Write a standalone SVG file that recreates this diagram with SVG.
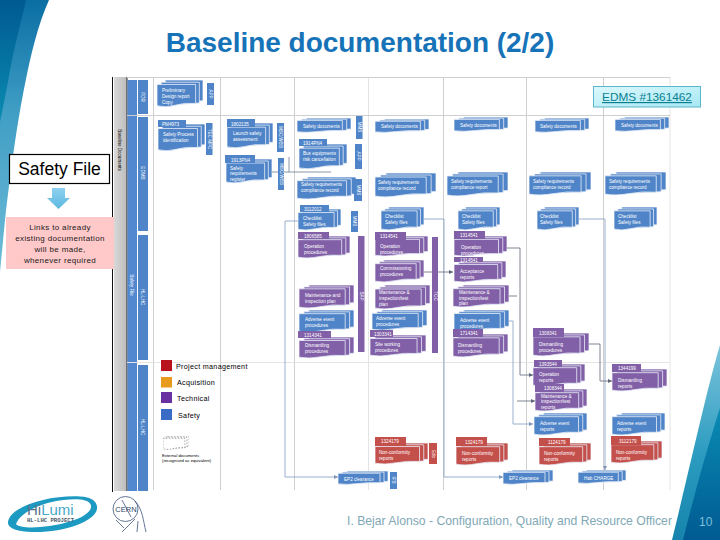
<svg xmlns="http://www.w3.org/2000/svg" width="720" height="540" viewBox="0 0 720 540">
<style>
text{font-family:"Liberation Sans",Arial,sans-serif}
.b{fill:#4f85c8}.p{fill:#8260a8}.r{fill:#c4504c}
.t{fill:#fff;font-size:4.6px}
.c{text-anchor:middle}
.l{fill:#000;font-size:7.2px;letter-spacing:.3px}
.lane{stroke:#cfcfcf;stroke-width:1;fill:none}
.lane2{stroke:#e4e4e4;stroke-width:1;fill:none}
.dk{stroke:#5d6675;stroke-width:.8;fill:none;marker-end:url(#ad)}
.lt{stroke:#8fa6c8;stroke-width:.9;fill:none;marker-end:url(#al)}
.pk{font-size:8px;letter-spacing:.35px;fill:#1a1a1a;text-anchor:middle}
.s use,.s path{vector-effect:non-scaling-stroke}
</style>
<defs>
<marker id="ad" markerWidth="5" markerHeight="5" refX="4" refY="2.5" orient="auto" markerUnits="userSpaceOnUse"><path d="M0 .5L4 2.5L0 4.5Z" fill="#5d6675"/></marker>
<marker id="al" markerWidth="5" markerHeight="5" refX="4" refY="2.5" orient="auto" markerUnits="userSpaceOnUse"><path d="M0 .5L4 2.5L0 4.5Z" fill="#7f95b8"/></marker>
<symbol id="st" viewBox="0 0 100 50" preserveAspectRatio="none">
<g stroke="#e8eef8" stroke-width=".8" class="s">
<path d="M18 0H100V37L18 42Z"/><path d="M9 4H92V41L9 46Z"/><path d="M0 8H84V42Q60 40 40 45Q18 50 0 46Z"/>
</g>
</symbol>
<symbol id="dot" viewBox="0 0 100 50" preserveAspectRatio="none">
<g stroke="#555" stroke-width=".5" stroke-dasharray="1.5 1.5" fill="#fff" class="s">
<path d="M18 0H100V37L18 42Z"/><path d="M9 4H92V41L9 46Z"/><path d="M0 8H84V42Q60 40 40 45Q18 50 0 46Z"/>
</g>
</symbol>
<linearGradient id="sw1" x1="0" y1="0" x2="0" y2="1"><stop offset="0" stop-color="#0a6ea3"/><stop offset=".4" stop-color="#3f9dc4"/><stop offset="1" stop-color="#6fbcd8"/></linearGradient>
<linearGradient id="sw2" x1="0" y1="0" x2="0" y2="1"><stop offset="0" stop-color="#005a92"/><stop offset="1" stop-color="#0a8cb2"/></linearGradient>
<linearGradient id="sw3" x1="0" y1="0" x2="0" y2="1"><stop offset="0" stop-color="#7cc4dc"/><stop offset=".55" stop-color="#2d9cc0"/><stop offset="1" stop-color="#1684ac"/></linearGradient>
<linearGradient id="sw4" x1="0" y1="0" x2="0" y2="1"><stop offset="0" stop-color="#0a8cb4"/><stop offset="1" stop-color="#005a92"/></linearGradient>
<linearGradient id="ed" x1="0" y1="0" x2="1" y2="1"><stop offset="0" stop-color="#dcf8fc"/><stop offset="1" stop-color="#a6e8f4"/></linearGradient>
<linearGradient id="ar" x1="0" y1="0" x2="0" y2="1"><stop offset="0" stop-color="#8ed0f0"/><stop offset="1" stop-color="#5cb8e0"/></linearGradient>
<linearGradient id="gr" x1="0" y1="0" x2="1" y2="0"><stop offset="0" stop-color="#d8d8d8"/><stop offset="1" stop-color="#bcbcbc"/></linearGradient>
</defs>
<rect width="720" height="540" fill="#fff"/>
<g id="swoosh-top-left">
<path d="M0 0H49C38 24 30 58 25 84C18 118 12 160 5 220L0 272Z" fill="url(#sw1)"/>
<path d="M0 0H26C20 26 12 56 8 82L0 122Z" fill="url(#sw2)"/>
</g>
<g id="swoosh-bottom-right">
<path d="M720 345C708 385 694 450 672 540H720Z" fill="url(#sw3)"/>
<path d="M720 408C708 446 698 480 683 540H720Z" fill="url(#sw4)"/>
</g>
<text id="title" x="360" y="52" text-anchor="middle" font-weight="700" fill="#1773b8" style="font-size:28px;letter-spacing:-.02px">Baseline documentation (2/2)</text>

<g id="lanes">
<path d="M112.500 77V492" stroke="#111" stroke-width="1" fill="none"/>
<rect x="114" y="77" width="13" height="414" fill="url(#gr)"/>
<path d="M127 77V491" stroke="#222" stroke-width="1"/>
<rect x="127.500" y="80" width="9.500" height="411" fill="#5288d0"/>
<rect x="138" y="80" width="10" height="34" class="b"/>
<rect x="138" y="117" width="10" height="114" class="b"/>
<rect x="138" y="235" width="10" height="125" class="b"/>
<rect x="138" y="365" width="10" height="126" class="b"/>
<path class="lane" d="M153.500 77V490M220.500 77V490M294.500 77V490M443.500 77V490M526.500 77V490M603.500 77V490"/>
<path class="lane2" d="M368.500 77V490M670 77V490"/>
<path class="lane" d="M127 77.500H670M127 115.500H670"/>
<path class="lane2" d="M127 362.500H670"/>
<text transform="translate(118 150) rotate(90)" class="c" style="font-size:4.500px">Baseline Documents</text>
<text transform="translate(130 285) rotate(90)" class="c t">Safety File</text>
<text transform="translate(141 97) rotate(90)" class="c t">PDR</text>
<text transform="translate(141 173) rotate(90)" class="c t">EDMS</text>
<text transform="translate(141 297) rotate(90)" class="c t">HL-LHC</text>
<text transform="translate(141 427) rotate(90)" class="c t">HL-LHC</text>
</g>

<g id="connectors">
<path d="M272 172H331M289 157V172" stroke="#6b7c90" stroke-width=".8" fill="none"/>
<path class="lt" d="M298 221H285V477H338"/>
<path class="lt" d="M424 219H444V477H503"/>
<path class="lt" d="M579 219H605V470"/>
<path class="dk" d="M507 248H520V375H533"/>
<path d="M509 296H517" stroke="#5d6675" stroke-width=".8"/>
<path class="dk" d="M517 401H535"/>
<path class="lt" d="M509 321H513V424H533"/>
<path class="dk" d="M589 344H600V381H612"/>
<path class="dk" d="M424 272H453"/>
</g>

<g id="n-pdr"><use href="#st" x="157" y="80" width="46" height="28" class="b"/><text class="t" x="162" y="92">Preliminary</text><text class="t" x="162" y="98">Design report</text><text class="t" x="162" y="104">Copy</text><rect x="207" y="83" width="7" height="22" class="b"/><text transform="translate(209 94) rotate(90)" class="c t">APP</text></g>
<g id="n-process"><use href="#st" x="158" y="124" width="47" height="28" class="b"/><rect x="158" y="120" width="28" height="7" class="b"/><text class="t" x="162" y="125.500">PM4973</text><text class="t" x="163" y="136">Safety Process</text><text class="t" x="163" y="142">identification</text><rect x="206" y="123" width="6.500" height="32" class="b"/><text transform="translate(208 139) rotate(90)" class="c t">TEC MPC</text></g>
<g id="n-launch"><use href="#st" x="227" y="123" width="46" height="26" class="b"/><rect x="227" y="119" width="28" height="8" class="b"/><text class="t" x="231" y="125.500">1802135</text><text class="t" x="233" y="135">Launch safety</text><text class="t" x="233" y="141">assessment</text><rect x="277" y="123" width="7" height="29" class="b"/><text transform="translate(279 137) rotate(90)" class="c t">MSC/WBS</text></g>
<g id="n-register"><use href="#st" x="226" y="159" width="46" height="25" class="b"/><rect x="225" y="155" width="30" height="8" class="b"/><text class="t" x="231" y="161.500">1913PN4</text><text class="t" x="230" y="170">Safety</text><text class="t" x="230" y="175">requirements</text><text class="t" x="230" y="181">register</text><rect x="278" y="158" width="6" height="32" class="b"/><text transform="translate(280 174) rotate(90)" class="c t">MSC/WBS</text></g>

<g id="n-docs3"><use href="#st" x="297" y="118" width="54" height="15" class="b"/><text class="t" x="303" y="128">Safety documents</text><rect x="356" y="116" width="6.500" height="23" class="b"/><text transform="translate(358 127) rotate(90)" class="c t">MMS</text></g>
<g id="n-risk"><use href="#st" x="299" y="144" width="48" height="26" class="b"/><rect x="299" y="139" width="28" height="7" class="b"/><text class="t" x="303" y="145">1914PN4</text><text class="t" x="303" y="155">Bus equipments</text><text class="t" x="303" y="161">risk cancellation</text><rect x="355" y="144" width="7" height="25" class="b"/><text transform="translate(357 156) rotate(90)" class="c t">APP</text></g>
<g id="n-comp3"><use href="#st" x="297" y="177" width="59" height="23" class="b"/><text class="t" x="301" y="186">Safety requirements</text><text class="t" x="301" y="192">compliance record</text><rect x="354" y="179" width="8" height="22" class="b"/><text transform="translate(356.500 190) rotate(90)" class="c t">MMS</text></g>
<g id="n-check3"><use href="#st" x="298" y="209" width="43" height="22" class="b"/><rect x="300" y="205" width="29" height="7" class="b"/><text class="t" x="304" y="210.500">3112012</text><text class="t" x="303" y="220">Checklist</text><text class="t" x="303" y="225.500">Safety files</text><rect x="351" y="211" width="7" height="21" class="b"/><text transform="translate(353 221) rotate(90)" class="c t">MMS</text></g>
<g id="n-op3"><use href="#st" x="298" y="236" width="52" height="23" class="p"/><rect x="298" y="232" width="31" height="7" class="p"/><text class="t" x="304" y="237.500">1806585</text><text class="t" x="304" y="248">Operation</text><text class="t" x="304" y="254">procedures</text></g>
<g id="n-sap"><rect x="358" y="236" width="6.500" height="116" class="p"/><text transform="translate(360 296) rotate(90)" class="c t">SAP</text></g>
<g id="n-maint3"><use href="#st" x="299" y="285" width="55" height="24" class="p"/><text class="t" x="305" y="297">Maintenance and</text><text class="t" x="305" y="303">inspection plan</text></g>
<g id="n-adv3"><use href="#st" x="299" y="310" width="55" height="23" class="b"/><text class="t" x="305" y="321">Adverse event</text><text class="t" x="305" y="327">procedures</text></g>
<g id="n-dis3"><use href="#st" x="299" y="337" width="55" height="22" class="p"/><rect x="298" y="331" width="33" height="7" class="p"/><text class="t" x="304" y="336.500">1314341</text><text class="t" x="305" y="347">Dismantling</text><text class="t" x="305" y="353">procedures</text></g>

<g id="n-docs4"><use href="#st" x="375" y="119" width="54" height="14" class="b"/><text class="t" x="381" y="128">Safety documents</text></g>
<g id="n-comp4"><use href="#st" x="375" y="173" width="61" height="25" class="b"/><text class="t" x="378" y="184">Safety requirements</text><text class="t" x="378" y="190">compliance record</text></g>
<g id="n-check4"><use href="#st" x="381" y="207" width="43" height="24" class="b"/><text class="t" x="385" y="218">Checklist</text><text class="t" x="385" y="224">Safety files</text></g>
<g id="n-op4"><use href="#st" x="375" y="236" width="53" height="21" class="p"/><rect x="375" y="232" width="31" height="8" class="p"/><text class="t" x="380" y="238">1314541</text><text class="t" x="380" y="248">Operation</text><text class="t" x="380" y="254">procedures</text></g>
<g id="n-comm4"><use href="#st" x="375" y="260" width="49" height="23" class="p"/><text class="t" x="380" y="260">1308341</text><text class="t" x="380" y="270">Commissioning</text><text class="t" x="380" y="276">procedures</text></g>
<g id="n-tcc"><rect x="432" y="237" width="6" height="116" class="p"/><text transform="translate(434 296) rotate(90)" class="c t">TCC</text></g>
<g id="n-maint4"><use href="#st" x="375" y="285" width="55" height="25" class="p"/><text class="t" x="379" y="294">Maintenance &amp;</text><text class="t" x="379" y="300">inspection/test</text><text class="t" x="379" y="306">plan</text></g>
<g id="n-adv4"><use href="#st" x="372" y="310" width="55" height="21" class="b"/><text class="t" x="376" y="320">Adverse event</text><text class="t" x="376" y="326">procedures</text></g>
<g id="n-site4"><use href="#st" x="370" y="335" width="56" height="22" class="p"/><rect x="370" y="330" width="23" height="7" class="p"/><text class="t" x="374" y="335.500">1303341</text><text class="t" x="375" y="346">Site working</text><text class="t" x="375" y="352">procedures</text></g>
<g id="n-nc4"><use href="#st" x="375" y="443" width="53" height="22" class="r"/><rect x="375" y="437" width="31" height="9" class="r"/><text class="t" x="381" y="443">1324179</text><text class="t" x="379" y="454">Non-conformity</text><text class="t" x="379" y="460">reports</text><rect x="429" y="443" width="8" height="21" class="r"/><text transform="translate(431.500 454) rotate(90)" class="c t">Edo</text></g>
<g id="n-eif"><use href="#st" x="338" y="471" width="50" height="14" class="b"/><text class="t" x="344" y="481">EP2 clearance</text><rect x="390" y="472" width="7" height="17" class="b"/><text transform="translate(392 480) rotate(90)" class="c t">IFS</text></g>

<g id="n-docs5"><use href="#st" x="454" y="117" width="54" height="15" class="b"/><text class="t" x="460" y="127">Safety documents</text></g>
<g id="n-comp5"><use href="#st" x="447" y="172" width="61" height="25" class="b"/><text class="t" x="451" y="183">Safety requirements</text><text class="t" x="451" y="189">compliance report</text></g>
<g id="n-check5"><use href="#st" x="458" y="207" width="42" height="24" class="b"/><text class="t" x="462" y="218">Checklist</text><text class="t" x="462" y="224">Safety files</text></g>
<g id="n-op5"><use href="#st" x="454" y="236" width="53" height="21" class="p"/><rect x="454" y="231" width="31" height="8" class="p"/><text class="t" x="460" y="237">1314541</text><text class="t" x="461" y="249">Operation</text><text class="t" x="461" y="254.500">procedures</text></g>
<g id="n-acc5"><use href="#st" x="454" y="261" width="52" height="22" class="p"/><rect x="454" y="257" width="29" height="5" class="p"/><text class="t" x="460" y="261.500">1314541</text><text class="t" x="460" y="273">Acceptance</text><text class="t" x="460" y="279">reports</text></g>
<g id="n-maint5"><use href="#st" x="453" y="285" width="56" height="23" class="p"/><text class="t" x="459" y="294">Maintenance &amp;</text><text class="t" x="459" y="299.500">inspection/test</text><text class="t" x="459" y="305">plan</text></g>
<g id="n-adv5"><use href="#st" x="454" y="310" width="55" height="22" class="b"/><text class="t" x="460" y="322">Adverse event</text><text class="t" x="460" y="328">procedures</text></g>
<g id="n-dis5"><use href="#st" x="453" y="334" width="55" height="24" class="p"/><rect x="453" y="329" width="30" height="8" class="p"/><text class="t" x="460" y="335">1714341</text><text class="t" x="458" y="347">Dismantling</text><text class="t" x="458" y="353">procedures</text></g>
<g id="n-nc5"><use href="#st" x="456" y="443" width="52" height="23" class="r"/><rect x="456" y="437" width="31" height="9" class="r"/><text class="t" x="465" y="443.500">1324179</text><text class="t" x="462" y="455">Non-conformity</text><text class="t" x="462" y="461">reports</text></g>
<g id="n-ep2"><use href="#st" x="503" y="470" width="50" height="15" class="b"/><text class="t" x="509" y="480">EP2 clearance</text></g>

<g id="n-docs6"><use href="#st" x="535" y="118" width="54" height="15" class="b"/><text class="t" x="540" y="128">Safety documents</text></g>
<g id="n-comp6"><use href="#st" x="529" y="172" width="62" height="24" class="b"/><text class="t" x="533" y="183">Safety requirements</text><text class="t" x="533" y="189">compliance record</text></g>
<g id="n-check6"><use href="#st" x="537" y="207" width="42" height="24" class="b"/><text class="t" x="540" y="218">Checklist</text><text class="t" x="540" y="224">Safety files</text></g>
<g id="n-dis6"><use href="#st" x="533" y="333" width="56" height="24" class="p"/><rect x="533" y="328" width="31" height="9" class="p"/><text class="t" x="539" y="334.500">1308341</text><text class="t" x="539" y="345.500">Dismantling</text><text class="t" x="539" y="351.500">procedures</text></g>
<g id="n-oprep6"><use href="#st" x="533" y="364" width="52" height="23" class="p"/><rect x="534" y="360" width="28" height="7" class="p"/><text class="t" x="539" y="365.500">1393544</text><text class="t" x="539" y="376">Operation</text><text class="t" x="539" y="382">reports</text></g>
<g id="n-maint6"><use href="#st" x="535" y="389" width="52" height="23" class="p"/><rect x="535" y="384" width="29" height="8" class="p"/><text class="t" x="544" y="390">1308344</text><text class="t" x="541" y="398">Maintenance &amp;</text><text class="t" x="541" y="403">inspection/test</text><text class="t" x="541" y="409">reports</text></g>
<g id="n-adv6"><use href="#st" x="534" y="413" width="53" height="23" class="b"/><text class="t" x="540" y="425">Adverse event</text><text class="t" x="540" y="431">reports</text></g>
<g id="n-nc6"><use href="#st" x="539" y="443" width="52" height="23" class="r"/><rect x="539" y="438" width="31" height="8" class="r"/><text class="t" x="548" y="444">1124179</text><text class="t" x="544" y="455">Non-conformity</text><text class="t" x="544" y="461">reports</text></g>
<g id="n-hab"><use href="#st" x="578" y="470" width="48" height="14" class="b"/><text class="t" x="584" y="480">Hab CHARGE</text></g>

<g id="n-docs7"><use href="#st" x="615" y="117" width="54" height="15" class="b"/><text class="t" x="621" y="127">Safety documents</text></g>
<g id="n-comp7"><use href="#st" x="605" y="172" width="61" height="24" class="b"/><text class="t" x="609" y="183">Safety requirements</text><text class="t" x="609" y="189">compliance record</text></g>
<g id="n-check7"><use href="#st" x="614" y="207" width="43" height="24" class="b"/><text class="t" x="618" y="218">Checklist</text><text class="t" x="618" y="224">Safety files</text></g>
<g id="n-disr7"><use href="#st" x="612" y="369" width="55" height="23" class="p"/><rect x="612" y="364" width="29" height="8" class="p"/><text class="t" x="618" y="370">1344199</text><text class="t" x="618" y="381.500">Dismantling</text><text class="t" x="618" y="387.500">reports</text></g>
<g id="n-adv7"><use href="#st" x="612" y="413" width="53" height="23" class="b"/><text class="t" x="617" y="425">Adverse event</text><text class="t" x="617" y="431">reports</text></g>
<g id="n-nc7"><use href="#st" x="611" y="441" width="51" height="23" class="r"/><rect x="611" y="436" width="30" height="9" class="r"/><text class="t" x="619" y="442.500">3112179</text><text class="t" x="616" y="454">Non-conformity</text><text class="t" x="616" y="460">reports</text></g>

<g id="legend">
<rect x="161" y="360" width="11" height="11" fill="#b8121c"/>
<rect x="161" y="377" width="11" height="10.500" fill="#e89a1e"/>
<rect x="161" y="392" width="11" height="11" fill="#6a2fa0"/>
<rect x="161" y="409" width="11" height="11" fill="#3a6cc6"/>
<text class="l" x="176" y="369">Project management</text>
<text class="l" x="177" y="385">Acquisition</text>
<text class="l" x="177" y="401">Technical</text>
<text class="l" x="178" y="417.500">Safety</text>
<use href="#dot" x="163" y="436" width="26" height="14"/>
<text x="162" y="457" style="font-size:4.200px">External documents</text>
<text x="162" y="462" style="font-size:4.200px">(recognised as equivalent)</text>
</g>

<g id="edms"><rect x="593.500" y="86.500" width="107" height="20.500" fill="url(#ed)" stroke="#5ab6ca"/><text x="647" y="101" text-anchor="middle" fill="#0a7f92" text-decoration="underline" style="font-size:11.800px">EDMS #1361462</text></g>
<g id="safety-file"><rect x="9.500" y="154.500" width="100" height="29" fill="#fff" stroke="#000" stroke-width="1.200"/><text x="59.500" y="175" text-anchor="middle" fill="#000" style="font-size:17.500px">Safety File</text></g>
<path id="safety-arrow" d="M52 188H65V198H70L58.500 209L47 198H52Z" fill="url(#ar)"/>
<g id="links-note"><rect x="6" y="217" width="108" height="52" fill="#ffc9c9"/>
<text class="pk" x="60" y="230">Links to already</text><text class="pk" x="60" y="241">existing documentation</text><text class="pk" x="60" y="252">will be made,</text><text class="pk" x="60" y="263">whenever required</text></g>

<g id="logo-hilumi">
<path fill-rule="evenodd" d="M8 522C10 506 50 495 80 496.500C92 497 98 502 97 509C95 522 62 533 32 532C18 532 7 528 8 522ZM16 524C22 508 56 498 80 499.500C90 500.500 93 505 90 510C84 520 54 527 32 527.500C24 527.500 17 526 16 524Z" fill="#1c9ac2"/>
<text x="27" y="514.500" fill="#5a7388" style="font-size:15px">Hi<tspan fill="#4aa8c8">Lumi</tspan></text>
<text x="27" y="521.500" fill="#4a5a68" font-weight="700" style="font-size:5.600px;font-family:'Liberation Mono',monospace">HL-LHC PROJECT</text>
</g>
<g id="logo-cern" fill="none" stroke="#3f5478" stroke-width=".8">
<circle cx="125.500" cy="509" r="12.500"/>
<path d="M135 501C143 510 143 520 146 532M122 532L135 519M131 517L122 500M138 521L137 532M116 520L124 528"/>
<text x="126" y="512" text-anchor="middle" fill="#2d4468" stroke="none" style="font-size:7.500px">CERN</text>
</g>
<text id="footer" x="347" y="525" fill="#7fa8b6" style="font-size:12.200px">I. Bejar Alonso -  Configuration, Quality and Resource Officer</text>
<text id="page" x="699" y="526" fill="#7cc0da" style="font-size:12px">10</text>
</svg>
